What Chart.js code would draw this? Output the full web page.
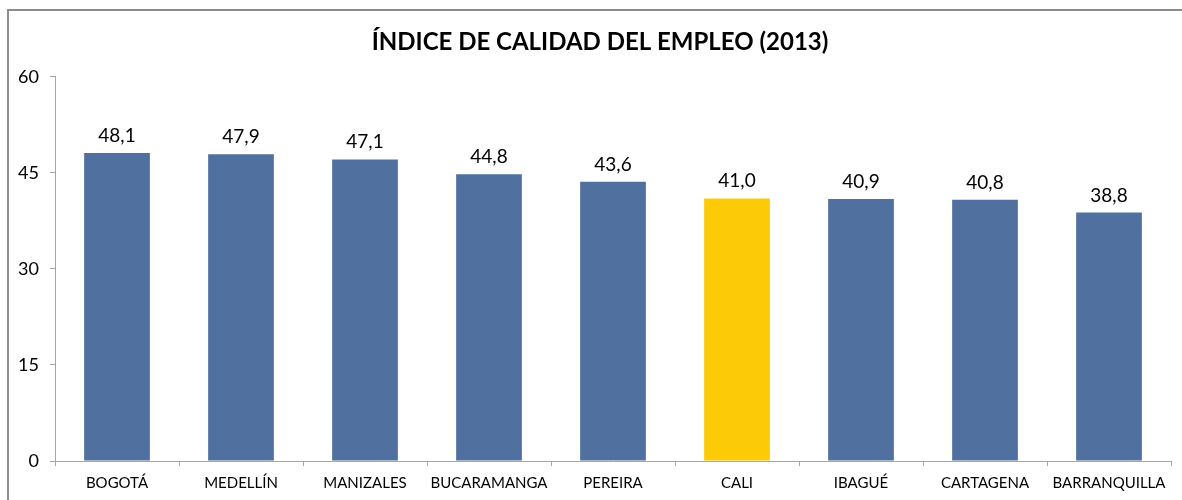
<!DOCTYPE html>
<html>
<head>
<meta charset="utf-8">
<script src="https://cdn.jsdelivr.net/npm/chart.js@4"></script>
<style>
  html, body { margin: 0; padding: 0; background: #fff; }
  #wrap { width: 1182px; height: 500px; position: relative; }
</style>
</head>
<body>
<div id="wrap"><canvas id="chart"></canvas></div>
<script>
// Índice de calidad del empleo, 2013
const ciudades = ['BOGOTÁ', 'MEDELLÍN', 'MANIZALES', 'BUCARAMANGA', 'PEREIRA', 'CALI', 'IBAGUÉ', 'CARTAGENA', 'BARRANQUILLA'];
const indice = [48.1, 47.9, 47.1, 44.8, 43.6, 41.0, 40.9, 40.8, 38.8];
const resaltada = 'CALI';
const yTicks = [0, 15, 30, 45, 60];

const AZUL = '#50709f';
const AMARILLO = '#fdca08';
const GRIS = '#a6a6a6';
const FUENTE = 'Lato, "Open Sans", sans-serif';

const colores = ciudades.map(c => c === resaltada ? AMARILLO : AZUL);

// marco exterior del gráfico
const marco = {
  id: 'marco',
  beforeDraw(chart) {
    // el eje Y es estrecho (para centrar el título); ampliar su zona de recorte hacia la izquierda
    chart.scales.y.left = 0;
    const ctx = chart.ctx;
    ctx.save();
    ctx.fillStyle = '#fff';
    ctx.fillRect(0, 0, chart.width, chart.height);
    ctx.strokeStyle = '#8c8c8c';
    ctx.lineWidth = 2;
    ctx.strokeRect(8, 10, chart.width + 20, chart.height + 20);
    ctx.restore();
  }
};

// etiquetas de valor encima de las barras (coma decimal)
const etiquetas = {
  id: 'etiquetas',
  afterDatasetsDraw(chart) {
    const ctx = chart.ctx;
    const meta = chart.getDatasetMeta(0);
    ctx.save();
    ctx.font = '19px ' + FUENTE;
    ctx.fillStyle = '#000';
    ctx.textAlign = 'center';
    ctx.textBaseline = 'alphabetic';
    meta.data.forEach((bar, i) => {
      const txt = indice[i].toFixed(1).replace('.', ',');
      ctx.fillText(txt, bar.x, bar.y - 11);
    });
    ctx.restore();
  }
};

new Chart(document.getElementById('chart'), {
  type: 'bar',
  data: {
    labels: ciudades,
    datasets: [{
      data: indice,
      backgroundColor: colores,
      borderWidth: 0,
      barPercentage: 0.53,
      categoryPercentage: 1
    }]
  },
  options: {
    responsive: true,
    maintainAspectRatio: false,
    animation: false,
    // padding izquierdo para centrar el título como en el original
    layout: { padding: { left: 29, right: 11, top: 0, bottom: 0 } },
    plugins: {
      legend: { display: false },
      tooltip: { enabled: false },
      title: {
        display: true,
        text: 'ÍNDICE DE CALIDAD DEL EMPLEO (2013)',
        color: '#000',
        font: { family: FUENTE, size: 24, weight: 'bold', lineHeight: 1.2 },
        padding: { top: 28, bottom: 20 }
      }
    },
    scales: {
      y: {
        min: 0,
        max: 60,
        afterFit(scale) { scale.width = 26; },
        afterBuildTicks(scale) { scale.ticks = yTicks.map(v => ({ value: v })); },
        ticks: {
          color: '#000',
          padding: 11,
          font: { family: FUENTE, size: 18 }
        },
        grid: { drawOnChartArea: false, drawTicks: true, tickLength: 5, color: GRIS },
        border: { display: true, color: GRIS }
      },
      x: {
        afterFit(scale) { scale.height = 39; },
        ticks: {
          color: '#000',
          padding: 8,
          maxRotation: 0,
          autoSkip: false,
          font: { family: FUENTE, size: 15 }
        },
        grid: { drawOnChartArea: false, drawTicks: true, tickLength: 5, color: GRIS, offset: true },
        border: { display: true, color: GRIS }
      }
    }
  },
  plugins: [marco, etiquetas]
});
</script>
</body>
</html>
